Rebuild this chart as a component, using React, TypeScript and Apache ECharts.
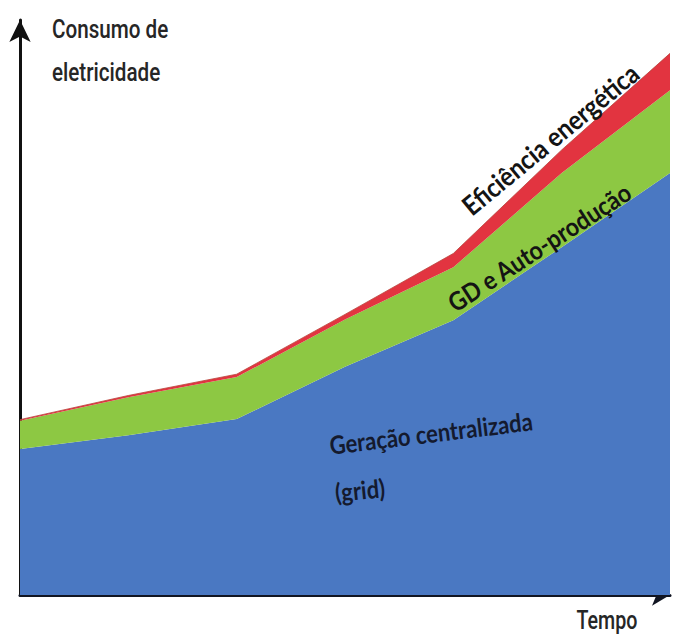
import React, { useEffect, useRef } from "react";
import * as echarts from "echarts";

// Time points (no tick labels shown on the original)
const timePoints = ["t1", "t2", "t3", "t4", "t5", "t6", "t7"];
// Stacked layers (arbitrary units, axis 0..100)
const geracaoCentralizada = [25.4, 27.8, 30.6, 39.7, 47.8, 60.5, 73.4];
const gdAutoProducao = [4.9, 6.6, 7.3, 8.2, 9.2, 12.9, 14.4];
const eficienciaEnergetica = [0.2, 0.3, 0.5, 0.9, 2.4, 4.0, 6.4];

const yAxisTitle = "Consumo de\neletricidade";
const xAxisTitle = "Tempo";

export default function App() {
  const ref = useRef<HTMLDivElement>(null);
  useEffect(() => {
    if (!ref.current) return;
    const chart = echarts.init(ref.current, undefined, { renderer: "svg" });
    const boldFont = "Lato";
    const plainFont = "Roboto";
    chart.setOption({
      animation: false,
      backgroundColor: "#ffffff",
      grid: { left: 20, right: 10, top: 20, bottom: 44 },
      xAxis: {
        type: "category",
        data: timePoints,
        boundaryGap: false,
        axisLine: {
          show: true,
          lineStyle: { color: "#111522", width: 3 },
          symbol: ["none", "arrow"],
          symbolSize: [16, 18],
        },
        axisTick: { show: false },
        axisLabel: { show: false },
        splitLine: { show: false },
      },
      yAxis: {
        type: "value",
        min: 0,
        max: 100,
        axisLine: {
          show: true,
          lineStyle: { color: "#111111", width: 3 },
          symbol: ["none", "arrow"],
          symbolSize: [16, 22],
        },
        axisTick: { show: false },
        axisLabel: { show: false },
        splitLine: { show: false },
      },
      series: [
        {
          name: "Geração centralizada (grid)",
          type: "line",
          stack: "total",
          data: geracaoCentralizada,
          symbol: "none",
          lineStyle: { width: 0 },
          areaStyle: { color: "#4a78c2", opacity: 1 },
          z: 1,
        },
        {
          name: "GD e Auto-produção",
          type: "line",
          stack: "total",
          data: gdAutoProducao,
          symbol: "none",
          lineStyle: { width: 0 },
          areaStyle: { color: "#8dc843", opacity: 1 },
          z: 1,
        },
        {
          name: "Eficiência energética",
          type: "line",
          stack: "total",
          data: eficienciaEnergetica,
          symbol: "none",
          lineStyle: { width: 0.8, color: "#b8423a" },
          areaStyle: { color: "#e23440", opacity: 1 },
          z: 1,
        },
      ],
      graphic: [
        {
          type: "text",
          x: 52,
          y: 8,
          scaleX: 0.86,
          scaleY: 1.05,
          z: 100,
          style: {
            text: yAxisTitle,
            font: `500 24px "${plainFont}"`,
            fill: "#262626",
            textAlign: "left",
            textVerticalAlign: "top",
            lineHeight: 41,
          },
        },
        {
          type: "text",
          x: 607,
          y: 621,
          scaleX: 0.82,
          scaleY: 1.05,
          z: 100,
          style: {
            text: xAxisTitle,
            font: `500 24px "${plainFont}"`,
            fill: "#262626",
            textAlign: "center",
            textVerticalAlign: "middle",
          },
        },
        {
          type: "text",
          x: 550,
          y: 139,
          rotation: 0.69,
          scaleY: 1.12,
          z: 100,
          style: {
            text: "Eficiência energética",
            font: `bold 24px "${boldFont}"`,
            fill: "#141414",
            textAlign: "center",
            textVerticalAlign: "middle",
          },
        },
        {
          type: "text",
          x: 539,
          y: 247,
          rotation: 0.575,
          scaleY: 1.12,
          z: 100,
          style: {
            text: "GD e Auto-produção",
            font: `bold 23px "${boldFont}"`,
            fill: "#141414",
            textAlign: "center",
            textVerticalAlign: "middle",
          },
        },
        {
          type: "text",
          x: 431,
          y: 433,
          rotation: 0.12,
          scaleY: 1.15,
          z: 100,
          style: {
            text: "Geração centralizada",
            font: `bold 22px "${boldFont}"`,
            fill: "#141a2e",
            textAlign: "center",
            textVerticalAlign: "middle",
          },
        },
        {
          type: "text",
          x: 360,
          y: 490,
          rotation: 0.1,
          scaleY: 1.15,
          z: 100,
          style: {
            text: "(grid)",
            font: `bold 22px "${boldFont}"`,
            fill: "#141a2e",
            textAlign: "center",
            textVerticalAlign: "middle",
          },
        },
      ],
    });
    return () => chart.dispose();
  }, []);
  return (
    <div
      ref={ref}
      style={{ position: "fixed", left: 0, top: 0, width: 680, height: 639 }}
    />
  );
}
